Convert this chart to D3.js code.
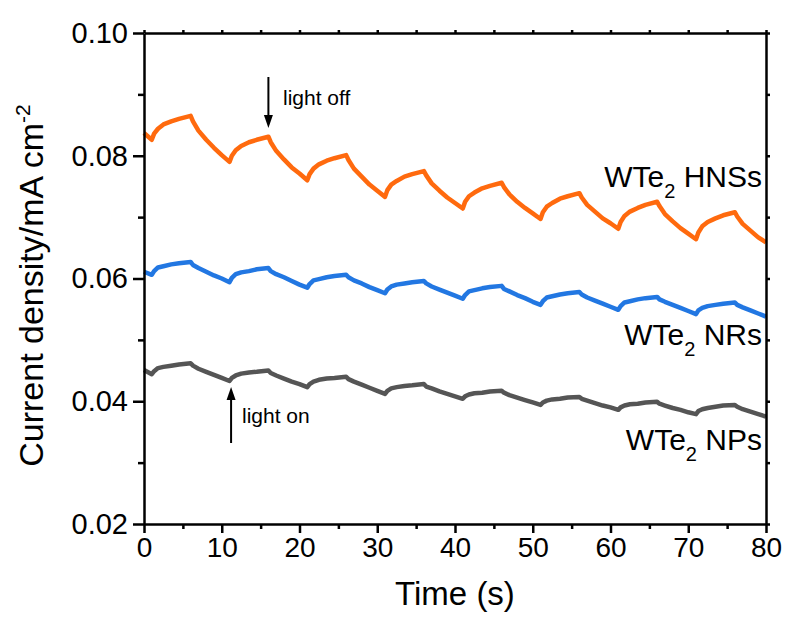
<!DOCTYPE html>
<html>
<head>
<meta charset="utf-8">
<script src="https://cdn.jsdelivr.net/npm/d3@7"></script>
<style>
  body { margin: 0; background: #fff; }
  svg text { font-family: "Liberation Sans", Arial, sans-serif; fill: #000; }
</style>
</head>
<body>
<svg id="chart" width="790" height="619"></svg>
<script>
// time grid (s): light on at 1, 11, 21 ... and off at 6, 16, 26 ...
var times = [
  0,
  1, 1.3, 1.8, 2.5, 3.5, 4.5, 6, 6.3, 7, 8, 9, 10,
  11, 11.3, 11.8, 12.5, 13.5, 14.5, 16, 16.3, 17, 18, 19, 20,
  21, 21.3, 21.8, 22.5, 23.5, 24.5, 26, 26.3, 27, 28, 29, 30,
  31, 31.3, 31.8, 32.5, 33.5, 34.5, 36, 36.3, 37, 38, 39, 40,
  41, 41.3, 41.8, 42.5, 43.5, 44.5, 46, 46.3, 47, 48, 49, 50,
  51, 51.3, 51.8, 52.5, 53.5, 54.5, 56, 56.3, 57, 58, 59, 60,
  61, 61.3, 61.8, 62.5, 63.5, 64.5, 66, 66.3, 67, 68, 69, 70,
  71, 71.3, 71.8, 72.5, 73.5, 74.5, 76, 76.3, 77, 78, 79, 80
];

var hnss = [
  0.0837,
  0.0826, 0.0836, 0.0844, 0.0851, 0.0856, 0.0860, 0.0865, 0.0856, 0.0841, 0.0826, 0.0813, 0.0801,
  0.0790, 0.0800, 0.0809, 0.0816, 0.0822, 0.0826, 0.0831, 0.0822, 0.0808, 0.0794, 0.0781, 0.0771,
  0.0760, 0.0770, 0.0779, 0.0786, 0.0792, 0.0796, 0.0801, 0.0793, 0.0779, 0.0766, 0.0753, 0.0743,
  0.0733, 0.0744, 0.0753, 0.0759, 0.0766, 0.0770, 0.0775, 0.0768, 0.0755, 0.0743, 0.0732, 0.0723,
  0.0714, 0.0725, 0.0734, 0.0740, 0.0747, 0.0751, 0.0756, 0.0749, 0.0737, 0.0725, 0.0715, 0.0706,
  0.0697, 0.0708, 0.0717, 0.0723, 0.0730, 0.0734, 0.0739, 0.0732, 0.0720, 0.0709, 0.0698, 0.0690,
  0.0681, 0.0692, 0.0702, 0.0709, 0.0715, 0.0720, 0.0725, 0.0718, 0.0705, 0.0693, 0.0682, 0.0673,
  0.0664, 0.0675, 0.0685, 0.0692, 0.0698, 0.0703, 0.0708, 0.0701, 0.0689, 0.0678, 0.0667, 0.0659
];

var nrs = [
  0.0611,
  0.0606, 0.0612, 0.0618, 0.0620, 0.0623, 0.0625, 0.0627, 0.0622, 0.0617, 0.0611, 0.0605, 0.0600,
  0.0594, 0.0601, 0.0607, 0.0610, 0.0612, 0.0615, 0.0617, 0.0612, 0.0607, 0.0602, 0.0596, 0.0590,
  0.0585, 0.0591, 0.0597, 0.0599, 0.0602, 0.0604, 0.0606, 0.0602, 0.0597, 0.0592, 0.0586, 0.0581,
  0.0576, 0.0582, 0.0587, 0.0590, 0.0592, 0.0594, 0.0596, 0.0592, 0.0587, 0.0582, 0.0577, 0.0572,
  0.0567, 0.0573, 0.0579, 0.0581, 0.0584, 0.0586, 0.0588, 0.0583, 0.0579, 0.0573, 0.0568, 0.0562,
  0.0557, 0.0563, 0.0569, 0.0571, 0.0574, 0.0576, 0.0578, 0.0574, 0.0569, 0.0564, 0.0559, 0.0554,
  0.0549, 0.0555, 0.0561, 0.0563, 0.0566, 0.0568, 0.0570, 0.0566, 0.0562, 0.0557, 0.0552, 0.0547,
  0.0542, 0.0548, 0.0552, 0.0555, 0.0557, 0.0559, 0.0561, 0.0557, 0.0553, 0.0548, 0.0543, 0.0538
];

var nps = [
  0.0451,
  0.0444, 0.0449, 0.0454, 0.0456, 0.0458, 0.0460, 0.0462, 0.0458, 0.0453, 0.0448, 0.0443, 0.0438,
  0.0433, 0.0438, 0.0442, 0.0445, 0.0447, 0.0448, 0.0450, 0.0446, 0.0442, 0.0437, 0.0432, 0.0428,
  0.0423, 0.0428, 0.0432, 0.0435, 0.0437, 0.0438, 0.0440, 0.0436, 0.0432, 0.0427, 0.0422, 0.0417,
  0.0412, 0.0417, 0.0421, 0.0423, 0.0425, 0.0426, 0.0428, 0.0424, 0.0421, 0.0416, 0.0412, 0.0408,
  0.0404, 0.0408, 0.0411, 0.0413, 0.0414, 0.0416, 0.0417, 0.0414, 0.0410, 0.0406, 0.0402, 0.0398,
  0.0394, 0.0398, 0.0401, 0.0403, 0.0404, 0.0406, 0.0407, 0.0404, 0.0401, 0.0397, 0.0393, 0.0390,
  0.0386, 0.0390, 0.0393, 0.0395, 0.0396, 0.0398, 0.0399, 0.0396, 0.0393, 0.0389, 0.0386, 0.0382,
  0.0379, 0.0384, 0.0387, 0.0389, 0.0391, 0.0393, 0.0394, 0.0391, 0.0387, 0.0383, 0.0379, 0.0375
];

var xTicks = [0, 10, 20, 30, 40, 50, 60, 70, 80];
var xMinor = [5, 15, 25, 35, 45, 55, 65, 75];
var yTicks = [0.02, 0.04, 0.06, 0.08, 0.10];
var yMinor = [0.03, 0.05, 0.07, 0.09];

var series = [
  { name: 'HNSs', values: hnss, color: '#ff6a0e' },
  { name: 'NRs', values: nrs, color: '#2277e2' },
  { name: 'NPs', values: nps, color: '#555555' }
];

var plotL = 144, plotR = 766, plotT = 33, plotB = 524;
var font = '"Liberation Sans", Arial, sans-serif';

var svg = d3.select( '#chart' );

var x = d3.scaleLinear().domain( [ 0, 80 ] ).range( [ plotL, plotR ] );
var y = d3.scaleLinear().domain( [ 0.02, 0.10 ] ).range( [ plotB, plotT ] );

// curves
var line = d3.line()
  .x( function ( d ) { return x( d[0] ); } )
  .y( function ( d ) { return y( d[1] ); } );

svg.append( 'g' ).selectAll( 'path' )
  .data( series )
  .enter()
  .append( 'path' )
  .attr( 'fill', 'none' )
  .attr( 'stroke', function ( d ) { return d.color; } )
  .attr( 'stroke-width', 4.5 )
  .attr( 'stroke-linejoin', 'round' )
  .attr( 'd', function ( d ) {
    return line( times.map( function ( t, i ) { return [ t, d.values[i] ]; } ) );
  } );

// axes
function styleAxis( g ) {
  g.select( '.domain' ).attr( 'stroke', '#000' ).attr( 'stroke-width', 2.5 );
  g.selectAll( '.tick line' ).attr( 'stroke', '#000' ).attr( 'stroke-width', 2.5 );
  g.selectAll( 'text' ).style( 'font-family', font ).attr( 'fill', '#000' );
}

var gx = svg.append( 'g' ).attr( 'transform', 'translate(0,' + plotB + ')' )
  .call( d3.axisBottom( x ).tickValues( xTicks ).tickSize( 9 ).tickSizeOuter( 0 ).tickPadding( 4 ).tickFormat( d3.format( 'd' ) ) );
styleAxis( gx );
gx.selectAll( 'text' ).style( 'font-size', '28px' );

svg.append( 'g' ).attr( 'transform', 'translate(0,' + plotB + ')' )
  .call( d3.axisBottom( x ).tickValues( xMinor ).tickSize( 5 ).tickFormat( '' ) )
  .call( function ( g ) { styleAxis( g ); g.select( '.domain' ).remove(); } );

var gy = svg.append( 'g' ).attr( 'transform', 'translate(' + plotL + ',0)' )
  .call( d3.axisLeft( y ).tickValues( yTicks ).tickSize( 11 ).tickSizeOuter( 0 ).tickPadding( 5 ).tickFormat( d3.format( '.2f' ) ) );
styleAxis( gy );
gy.selectAll( 'text' ).style( 'font-size', '29px' );

svg.append( 'g' ).attr( 'transform', 'translate(' + plotL + ',0)' )
  .call( d3.axisLeft( y ).tickValues( yMinor ).tickSize( 6 ).tickFormat( '' ) )
  .call( function ( g ) { styleAxis( g ); g.select( '.domain' ).remove(); } );

svg.append( 'g' ).attr( 'transform', 'translate(0,' + plotT + ')' )
  .call( d3.axisTop( x ).tickValues( xTicks.concat( xMinor ) ).tickSize( 3 ).tickSizeOuter( 0 ).tickFormat( '' ) )
  .call( styleAxis );

svg.append( 'g' ).attr( 'transform', 'translate(' + plotR + ',0)' )
  .call( d3.axisRight( y ).tickValues( yTicks.concat( yMinor ) ).tickSize( 4 ).tickSizeOuter( 0 ).tickFormat( '' ) )
  .call( styleAxis );

// axis titles
svg.append( 'text' )
  .attr( 'x', ( plotL + plotR ) / 2 )
  .attr( 'y', 605 )
  .attr( 'text-anchor', 'middle' )
  .style( 'font-size', '33px' )
  .text( 'Time (s)' );

var yt = svg.append( 'text' )
  .attr( 'transform', 'translate(43,' + ( ( plotT + plotB ) / 2 + 7 ) + ') rotate(-90)' )
  .attr( 'text-anchor', 'middle' )
  .style( 'font-size', '34px' );
yt.append( 'tspan' ).text( 'Current density/mA cm' );
yt.append( 'tspan' ).attr( 'dy', -13 ).style( 'font-size', '21px' ).text( '-2' );

// series labels
var labels = [
  { name: 'HNSs', yPos: 187 },
  { name: 'NRs', yPos: 345 },
  { name: 'NPs', yPos: 450 }
];
labels.forEach( function ( l ) {
  var t = svg.append( 'text' )
    .attr( 'x', 762 )
    .attr( 'y', l.yPos )
    .attr( 'text-anchor', 'end' )
    .style( 'font-size', '30px' );
  t.append( 'tspan' ).text( 'WTe' );
  t.append( 'tspan' ).attr( 'dy', 11 ).style( 'font-size', '20px' ).text( '2' );
  t.append( 'tspan' ).attr( 'dy', -11 ).text( ' ' + l.name );
} );

// light on / off annotations
function arrow( xp, y1, y2 ) {
  var dir = y2 > y1 ? 1 : -1;
  svg.append( 'line' )
    .attr( 'x1', xp ).attr( 'x2', xp )
    .attr( 'y1', y1 ).attr( 'y2', y2 - dir * 10 )
    .attr( 'stroke', '#000' ).attr( 'stroke-width', 2 );
  svg.append( 'path' )
    .attr( 'd', 'M' + ( xp - 4.5 ) + ',' + ( y2 - dir * 13 ) + 'L' + ( xp + 4.5 ) + ',' + ( y2 - dir * 13 ) + 'L' + xp + ',' + y2 + 'Z' )
    .attr( 'fill', '#000' );
}
arrow( x( 16 ), 77, 128 );
svg.append( 'text' ).attr( 'x', 283 ).attr( 'y', 105 ).style( 'font-size', '21px' ).text( 'light off' );

arrow( x( 11.2 ), 443, 387 );
svg.append( 'text' ).attr( 'x', 242 ).attr( 'y', 423 ).style( 'font-size', '21px' ).text( 'light on' );
</script>
</body>
</html>
